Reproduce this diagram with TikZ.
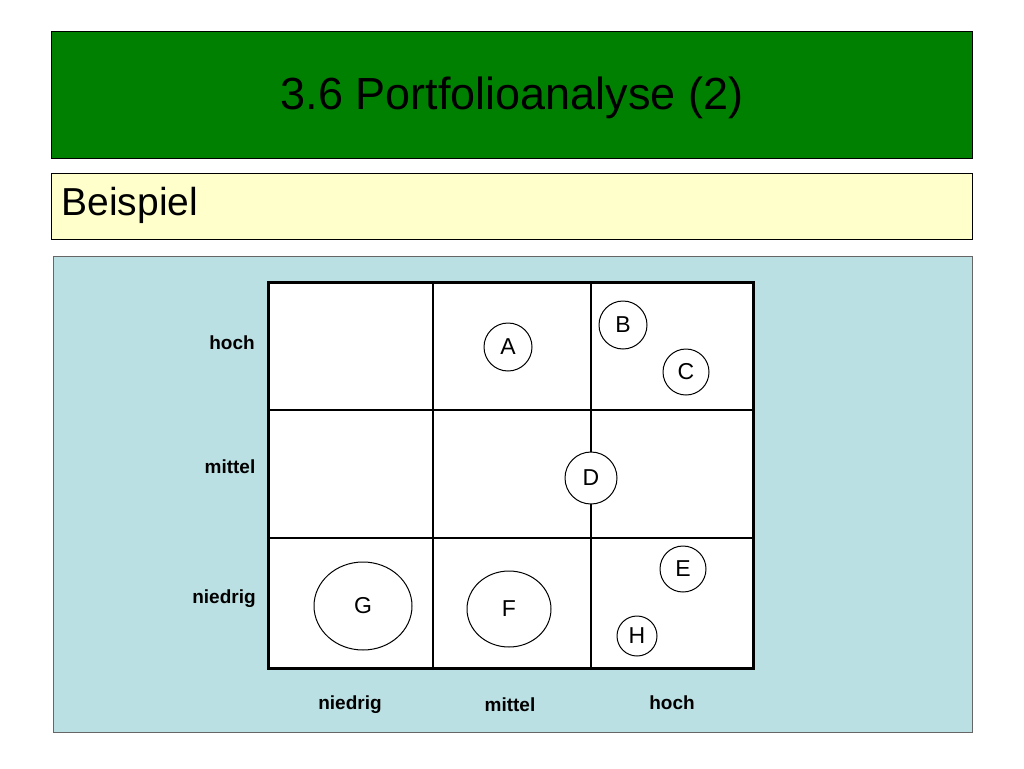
\documentclass[tikz,border=0pt]{standalone}
\usepackage{fontspec}
\setmainfont{Liberation Sans}
\usetikzlibrary{shapes.geometric}
\begin{document}
\begin{tikzpicture}[x=1pt,y=-1pt,
  bub/.style={draw=black,line width=1pt,fill=white,circle,minimum size=#1,inner sep=0pt,font=\fontsize{23}{25}\selectfont},
  ell/.style={draw=black,line width=1pt,fill=white,ellipse,inner sep=0pt,font=\fontsize{23}{25}\selectfont},
  axl/.style={font=\bfseries\fontsize{19}{21}\selectfont}]
\useasboundingbox (0,0) rectangle (1024,768);
\fill[white] (0,0) rectangle (1024,768);
\node[draw=black,fill={rgb,255:red,0;green,128;blue,0},minimum width=921pt,minimum height=127pt,anchor=north west,inner sep=0pt] (head) at (51,31) {};
\node[font=\fontsize{45}{50}\selectfont,text=black] (title) at (512,98) {3.6 Portfolioanalyse (2)};
\node[draw=black,fill={rgb,255:red,255;green,255;blue,204},minimum width=921pt,minimum height=66pt,anchor=north west,inner sep=0pt] (sub) at (51,173) {};
\node[font=\fontsize{39}{42}\selectfont,anchor=west] (beis) at (58,205) {Beispiel};
\node[draw=black!60,fill={rgb,255:red,187;green,224;blue,227},minimum width=919pt,minimum height=476pt,anchor=north west,inner sep=0pt] (panel) at (53,256) {};
\node[draw=black,line width=2.5pt,fill=white,minimum width=485pt,minimum height=386pt,anchor=north west,inner sep=0pt] (grid) at (267,281) {};
\draw[line width=1.3pt] (433,281) -- (433,667) (591,281) -- (591,667) (267,410) -- (752,410) (267,538) -- (752,538);
\node[bub=48pt] (A) at (508,347) {A};
\node[bub=48pt] (B) at (623,325) {B};
\node[bub=46pt] (C) at (686,372) {C};
\node[bub=52pt] (D) at (591,478) {D};
\node[bub=46pt] (E) at (683,569) {E};
\node[bub=40pt] (H) at (637,636) {H};
\node[ell,minimum width=98pt,minimum height=88pt] (G) at (363,606) {G};
\node[ell,minimum width=84pt,minimum height=76pt] (F) at (509,609) {F};
\node[axl] (y1) at (232,343) {hoch};
\node[axl] (y2) at (230,467) {mittel};
\node[axl] (y3) at (224,599) {niedrig};
\node[axl] (x1) at (350,705) {niedrig};
\node[axl] (x2) at (510,705) {mittel};
\node[axl] (x3) at (672,703) {hoch};
\end{tikzpicture}
\end{document}
